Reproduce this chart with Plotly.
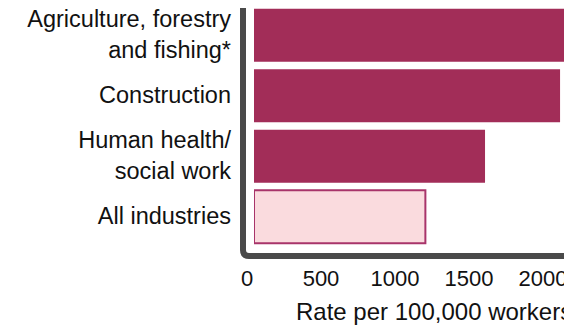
import plotly.graph_objects as go

categories = ["Agriculture, forestry<br>and fishing*", "Construction", "Human health/<br>social work", "All industries"]
rates = [2095, 2068, 1561, 1158]
fill_colors = ["#a22d58", "#a22d58", "#a22d58", "#fadbde"]
line_colors = ["#a22d58", "#a22d58", "#a22d58", "#a8346a"]
line_widths = [0, 0, 0, 2]
tick_vals = [0, 500, 1000, 1500, 2000]
x_title = "Rate per 100,000 workers"

OFF = 8  # page body margin
W, H = 572 - OFF, 325 - OFF
L, R, T, B = 246, 0, 0, 78
pw, ph = W - L - R, H - T - B
scale = 0.148
xmax = pw / scale
pitch = 60.5
ytop = 3.5 - ph / pitch

def px_x(p):
    return (p - OFF - L) / pw

def px_y(p):
    return (H - B - (p - OFF)) / ph

fig = go.Figure(go.Bar(
    y=categories, x=rates, orientation="h",
    marker=dict(color=fill_colors, line=dict(color=line_colors, width=line_widths)),
    hoverinfo="skip",
))

font = "Liberation Sans, Arial, Helvetica, sans-serif"
fig.update_layout(
    width=W, height=H,
    margin=dict(l=L, r=R, t=T, b=B, autoexpand=False),
    paper_bgcolor="white", plot_bgcolor="white",
    bargap=0.124,
    showlegend=False,
    font=dict(family=font, color="#111111"),
    xaxis=dict(range=[0, xmax], tickvals=tick_vals, ticktext=[str(v) for v in tick_vals],
               showgrid=False, zeroline=False, showline=False, ticks="",
               tickfont=dict(size=22, family=font, color="#111111"),
               ticklabelshift=-7, ticklabelstandoff=16, fixedrange=True, automargin=False),
    yaxis=dict(range=[3.5, ytop], showgrid=False, zeroline=False, showline=False, ticks="",
               tickfont=dict(size=23.5, family=font, color="#111111"),
               ticklabelstandoff=22, ticklabelshift=1, fixedrange=True, automargin=False),
)

xl = px_x(243)
yb = px_y(256)
rx = 6 / pw
ry = 6 / ph
path = (f"M {xl},{px_y(2)} L {xl},{yb + ry} Q {xl},{yb} {xl + rx},{yb} L {px_x(571)},{yb}")
fig.add_shape(type="path", xref="paper", yref="paper", path=path,
              line=dict(color="#4a4a4a", width=6), layer="above")

fig.add_annotation(text=x_title, xref="paper", yref="paper",
                   x=px_x(294), y=px_y(311), xanchor="left", yanchor="middle",
                   showarrow=False, font=dict(size=24, family=font, color="#111111"))

fig.write_html("out.html")
